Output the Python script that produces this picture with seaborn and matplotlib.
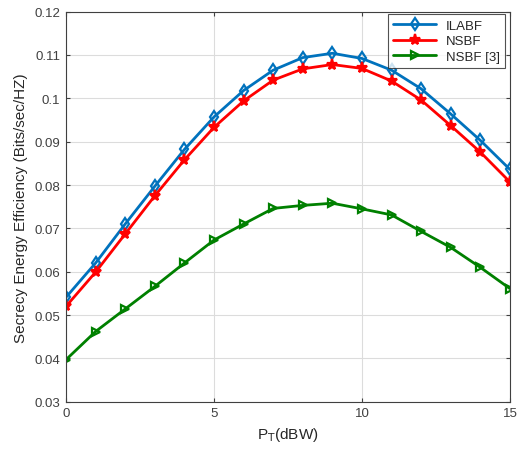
import numpy as np
import pandas as pd
import seaborn as sns
import matplotlib.pyplot as plt

# 横轴：发射功率
p_t = list(range(16))
# 各方案的保密能效
ilabf = [0.0541, 0.0620, 0.0710, 0.0797, 0.0882, 0.0957, 0.1018, 0.1065, 0.1094,
         0.1104, 0.1092, 0.1065, 0.1022, 0.0964, 0.0903, 0.0836]
nsbf = [0.0520, 0.0599, 0.0687, 0.0775, 0.0858, 0.0933, 0.0994, 0.1042, 0.1068,
        0.1078, 0.1069, 0.1040, 0.0996, 0.0937, 0.0876, 0.0807]
nsbf3 = [0.0397, 0.0462, 0.0514, 0.0566, 0.0620, 0.0673, 0.0710, 0.0746, 0.0753,
         0.0758, 0.0745, 0.0731, 0.0693, 0.0656, 0.0610, 0.0561]
series_names = ['ILABF', 'NSBF', 'NSBF [3]']
y_ticks = [0.03, 0.04, 0.05, 0.06, 0.07, 0.08, 0.09, 0.1, 0.11, 0.12]
y_tick_labels = ['0.03', '0.04', '0.05', '0.06', '0.07', '0.08', '0.09', '0.1', '0.11', '0.12']
x_ticks = [0, 5, 10, 15]

sns.set_style("ticks")
plt.rcParams['font.family'] = ['Liberation Sans', 'DejaVu Sans']

df = pd.DataFrame({'x': p_t * 3,
                   'y': ilabf + nsbf + nsbf3,
                   'scheme': [series_names[0]] * 16 + [series_names[1]] * 16 + [series_names[2]] * 16})

fig = plt.figure(figsize=(5.18, 4.52), dpi=100)
ax = fig.add_axes([0.1274, 0.109, 0.857, 0.863])

colors = ['#0072BD', '#FF0000', '#008000']
markers = ['d', '*', '>']
fills = ['none', '#FF0000', 'none']
sizes = [6, 8, 6]
for name, c, m, f, s in zip(series_names, colors, markers, fills, sizes):
    sub = df[df['scheme'] == name]
    sns.lineplot(data=sub, x='x', y='y', ax=ax, color=c, marker=m, markersize=s,
                 markerfacecolor=f, markeredgecolor=c, markeredgewidth=1.6,
                 linewidth=2, label=name)

ax.set_xlim(0, 15)
ax.set_ylim(0.03, 0.12)
ax.set_xticks(x_ticks)
ax.set_yticks(y_ticks)
ax.set_yticklabels(y_tick_labels)
ax.grid(True, color='#dcdcdc', linewidth=0.8)
ax.tick_params(direction='in', top=True, right=True, labelsize=9.5, labelcolor='#404040',
               color='#404040', length=3, width=0.8, pad=4)
for sp in ax.spines.values():
    sp.set_visible(True)
    sp.set_color('#404040')
    sp.set_linewidth(0.8)

ax.set_xlabel('P$_\\mathrm{T}$(dBW)', fontsize=11, color='#262626', labelpad=4)
ax.set_ylabel('Secrecy Energy Efficiency (Bits/sec/HZ)', fontsize=11, color='#262626',
              labelpad=5)

leg = ax.legend(loc='upper right', fontsize=9.5, frameon=True, fancybox=False,
                edgecolor='#262626', borderpad=0.4, handlelength=3.2, labelspacing=0.25,
                borderaxespad=0.0, bbox_to_anchor=(0.99, 0.993))
leg.get_frame().set_linewidth(0.8)

fig.savefig('out.png', dpi=100)
